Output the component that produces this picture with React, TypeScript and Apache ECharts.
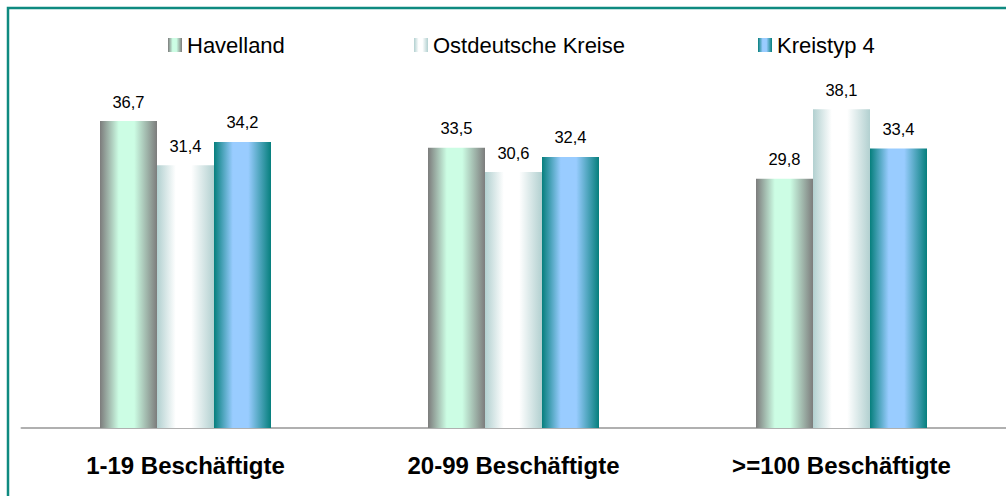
import React, { useEffect, useRef } from "react";
import * as echarts from "echarts";

const categories = ["1-19 Beschäftigte", "20-99 Beschäftigte", ">=100 Beschäftigte"];
const seriesNames = ["Havelland", "Ostdeutsche Kreise", "Kreistyp 4"];
const havelland = [36.7, 33.5, 29.8];
const ostdeutsche = [31.4, 30.6, 38.1];
const kreistyp4 = [34.2, 32.4, 33.4];

const edgeColors = ["#7c7c7c", "#b2d0d0", "#067f7d"];
const centerColors = ["#ccfde4", "#ffffff", "#99ccff"];

function grad(edge: string, center: string) {
  return new echarts.graphic.LinearGradient(0, 0, 1, 0, [
    { offset: 0, color: edge },
    { offset: 0.33, color: center },
    { offset: 0.6, color: center },
    { offset: 1, color: edge },
  ]);
}

const FONT = "'Liberation Sans', Arial, sans-serif";

export default function App() {
  const ref = useRef<HTMLDivElement>(null);
  useEffect(() => {
    document.body.style.margin = "0";
    const chart = echarts.init(ref.current!, undefined, { renderer: "svg" });
    const values = [havelland, ostdeutsche, kreistyp4];
    const legendLefts = [168, 414, 758];
    chart.setOption({
      animation: false,
      backgroundColor: "#ffffff",
      textStyle: { fontFamily: FONT },
      legend: seriesNames.map((n, i) => ({
        data: [n],
        left: legendLefts[i],
        top: 34,
        padding: 0,
        itemWidth: 14,
        itemHeight: 14,
        itemGap: 8,
        icon: "rect",
        textStyle: { fontSize: 22, color: "#000", fontFamily: FONT },
      })),
      grid: { left: 21.5, right: 0.5, top: 93.4, bottom: 68, containLabel: false },
      xAxis: {
        type: "category",
        data: categories,
        axisLine: { show: true, lineStyle: { color: "#b0b0b0", width: 2 } },
        axisTick: { show: false },
        axisLabel: {
          margin: 25,
          fontSize: 24,
          fontWeight: "bold",
          color: "#000",
          fontFamily: FONT,
        },
      },
      yAxis: {
        type: "value",
        min: 0,
        max: 40,
        show: false,
        splitLine: { show: false },
      },
      graphic: [
        {
          type: "rect",
          shape: { x: 8, y: 8, width: 1020, height: 520 },
          style: { fill: "none", stroke: "#0f8a80", lineWidth: 2.5 },
          silent: true,
          z: 10,
        },
      ],
      series: seriesNames.map((n, i) => ({
        name: n,
        type: "bar",
        data: values[i],
        barWidth: 57,
        barGap: "0%",
        itemStyle: { color: grad(edgeColors[i], centerColors[i]) },
        label: {
          show: true,
          position: "top",
          distance: 11,
          fontSize: 16.5,
          color: "#000",
          fontFamily: FONT,
          formatter: (p: any) => String(p.value).replace(".", ","),
        },
      })),
    });
    return () => chart.dispose();
  }, []);
  return <div ref={ref} style={{ width: 1006, height: 496 }} />;
}
